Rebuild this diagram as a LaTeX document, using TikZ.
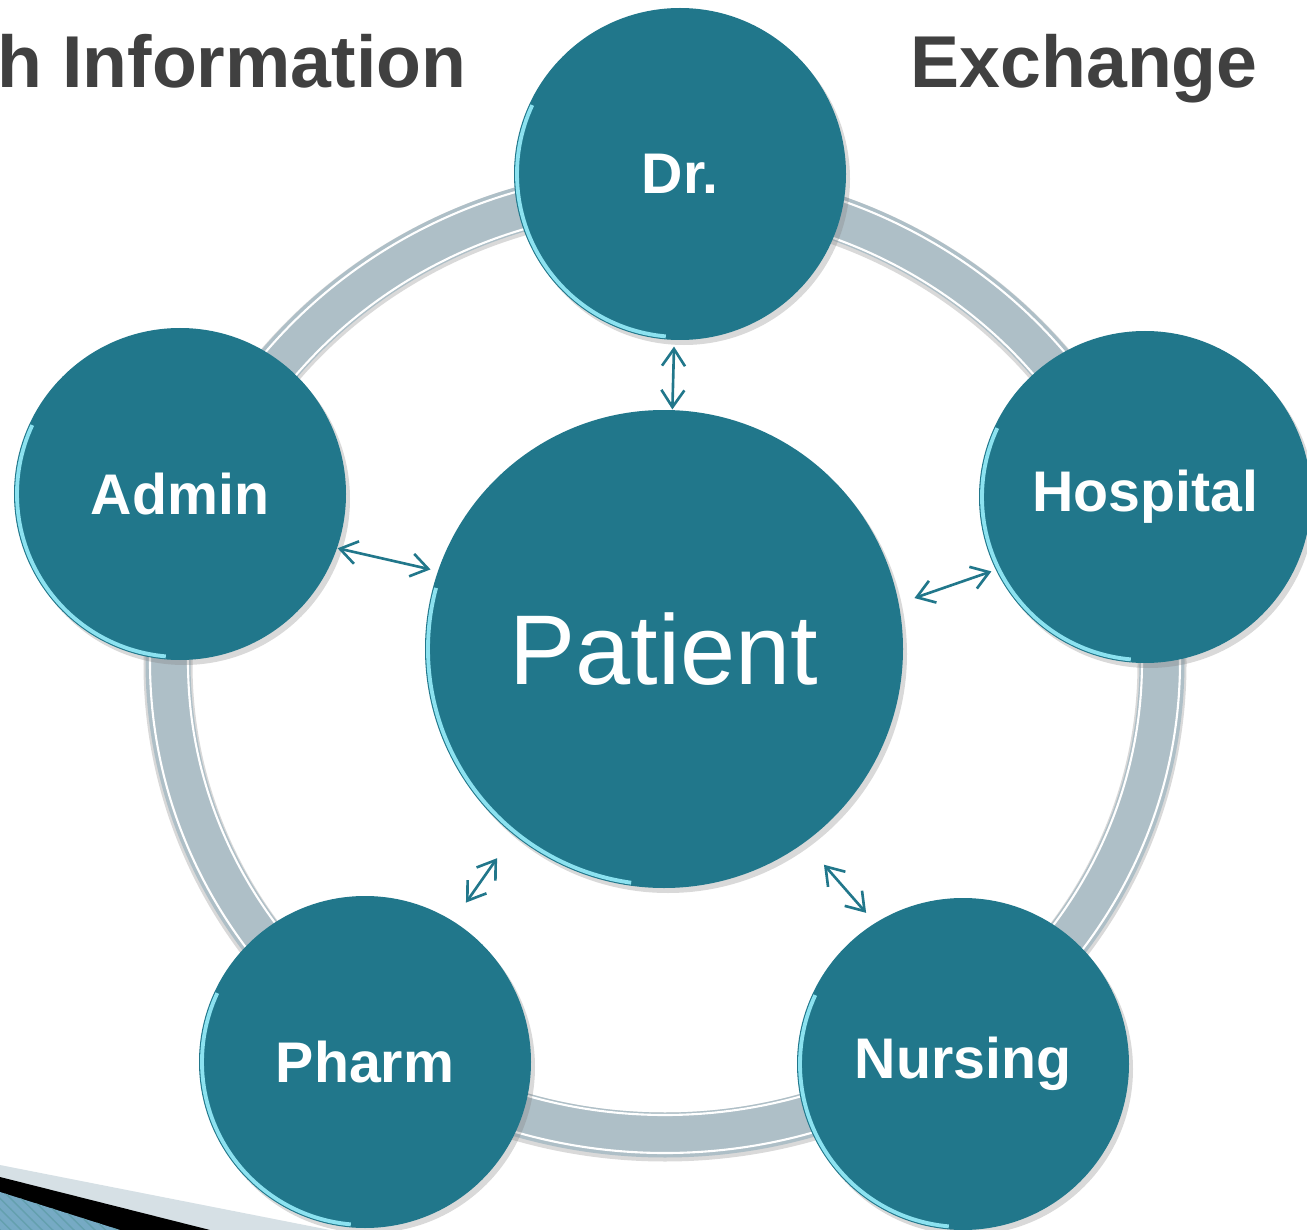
\documentclass[tikz,border=0pt]{standalone}
\usepackage{fontspec}
\setmainfont{Liberation Sans}
\usepackage{tikz}
\usetikzlibrary{arrows.meta,shadows,patterns}
\definecolor{petrol}{RGB}{33,119,139}
\definecolor{ringgrey}{RGB}{174,191,199}
\definecolor{titlegrey}{RGB}{64,64,64}
\definecolor{rimcyan}{RGB}{140,226,240}
\definecolor{bandgrey}{RGB}{214,224,229}
\definecolor{chevblue}{RGB}{118,170,196}
\tikzset{>={Straight Barb[length=1.7mm,width=2.3mm]}}
\tikzset{%
    spoke/.style={circle,fill=petrol,text=white,inner sep=0pt,minimum size=3.32cm,
        font=\fontsize{16.3}{19}\selectfont\bfseries,
        drop shadow={opacity=0.3,shadow xshift=0.04cm,shadow yshift=-0.05cm}},
    hub/.style={spoke,minimum size=4.78cm,font=\fontsize{28.2}{32}\selectfont},
    title/.style={text=titlegrey,inner sep=0pt,font=\fontsize{20.9}{24}\selectfont\bfseries},
    rim/.style={rimcyan,line width=1.1pt},
    link/.style={<->,petrol,line width=0.75pt}
}

\begin{document}
\begin{tikzpicture}
    \useasboundingbox (0,0) rectangle (13.07,-12.30);
    \fill[bandgrey] (0,-11.65)--(3.30,-12.30)--(0,-12.30)--cycle;
    \fill[black] (0,-11.77)--(2.10,-12.30)--(0,-12.30)--cycle;
    \fill[chevblue] (0,-11.92)--(1.20,-12.30)--(0,-12.30)--cycle;
    \fill[pattern=north west lines,pattern color=petrol!70] (0,-11.92)--(1.20,-12.30)--(0,-12.30)--cycle;
    \node[title,anchor=base east] (info) at (4.67,-0.88) {h Information};
    \node[title,anchor=base west] (exch) at (9.10,-0.88) {Exchange};
    \draw[black!15,line width=0.49cm] (6.65,-6.64) ellipse (4.97 and 4.73);
    \draw[ringgrey,line width=0.45cm] (6.65,-6.62) ellipse (4.97 and 4.73);
    \draw[white,line width=0.6pt] (6.65,-6.62) ellipse (5.15 and 4.91);
    \draw[white,line width=0.6pt] (6.65,-6.62) ellipse (4.77 and 4.53);
    \node[spoke] (dr) at (6.80,-1.74) {Dr.};
    \node[spoke] (admin) at (1.80,-4.94) {Admin};
    \node[spoke] (hospital) at (11.45,-4.97) {Hospital};
    \node[spoke] (pharm) at (3.65,-10.62) {Pharm};
    \node[spoke] (nursing) at (9.63,-10.64) {Nursing};
    \node[hub] (patient) at (6.64,-6.49) {Patient};
    \foreach \n in {dr,admin,hospital,pharm,nursing}
        \draw[rim] (\n.center) ++(155:1.63) arc (155:265:1.63);
    \draw[rim] (patient.center) ++(165:2.36) arc (165:262:2.36);
    \draw[link,shorten <=0.06cm] (dr.-92)--(patient.88);
    \draw[link,shorten >=0.07cm] (admin.-19)--(patient.161);
    \draw[link,shorten <=0.04cm,shorten >=0.16cm] (hospital.206)--(patient.11);
    \draw[link,shorten <=0.22cm,shorten >=0.28cm] (pharm.58)--(patient.231);
    \draw[link,shorten <=0.13cm,shorten >=0.29cm] (nursing.122)--(patient.-54);
\end{tikzpicture}
\end{document}
